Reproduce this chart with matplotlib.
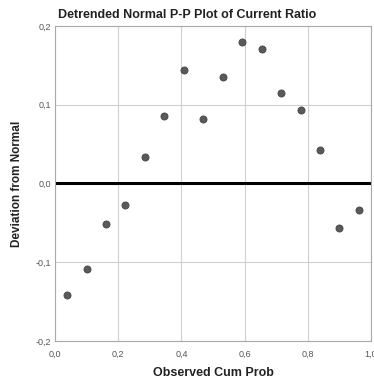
import matplotlib
matplotlib.use("Agg")
import matplotlib.pyplot as plt

# observed cumulative probability vs deviation from normal
obs_cum_prob = [0.038, 0.100, 0.162, 0.223, 0.285, 0.346, 0.408, 0.469,
                0.531, 0.592, 0.654, 0.715, 0.777, 0.838, 0.900, 0.962]
deviation = [-0.142, -0.108, -0.051, -0.027, 0.033, 0.086, 0.144, 0.082,
             0.135, 0.180, 0.171, 0.115, 0.093, 0.043, -0.057, -0.034]

x_ticks = [0.0, 0.2, 0.4, 0.6, 0.8, 1.0]
x_tick_labels = ["0,0", "0,2", "0,4", "0,6", "0,8", "1,0"]
y_ticks = [-0.2, -0.1, 0.0, 0.1, 0.2]
y_tick_labels = ["-0,2", "-0,1", "0,0", "0,1", "0,2"]

plt.rcParams['font.family'] = ['Liberation Sans', 'DejaVu Sans']

fig = plt.figure(figsize=(3.74, 3.81), dpi=100)
ax = fig.add_axes([0.147, 0.105, 0.845, 0.827])

ax.scatter(obs_cum_prob, deviation, s=26, color='#5a5a5a', edgecolors='#444444',
           linewidths=0.6, zorder=3)
ax.axhline(0, color='black', linewidth=2.2, zorder=2)

ax.set_xlim(0, 1)
ax.set_ylim(-0.2, 0.2)
ax.set_xticks(x_ticks)
ax.set_xticklabels(x_tick_labels)
ax.set_yticks(y_ticks)
ax.set_yticklabels(y_tick_labels)
ax.tick_params(length=0, labelsize=6.5, labelcolor='#555555')
ax.tick_params(axis='x', pad=6)
ax.tick_params(axis='y', pad=3)
ax.grid(True, color='#d0d0d0', linewidth=0.8)
ax.set_axisbelow(True)
for s in ax.spines.values():
    s.set_color('#aaaaaa')
    s.set_linewidth(0.8)

fig.text(0.5, 0.96, 'Detrended Normal P-P Plot of Current Ratio', fontsize=9,
         fontweight='bold', color='#222222', ha='center', va='center')
ax.set_xlabel('Observed Cum Prob', fontsize=9, fontweight='bold', color='#222222', labelpad=6)
ax.set_ylabel('Deviation from Normal', fontsize=8.5, fontweight='bold', color='#222222', labelpad=9)

plt.savefig('out.png', dpi=100)
